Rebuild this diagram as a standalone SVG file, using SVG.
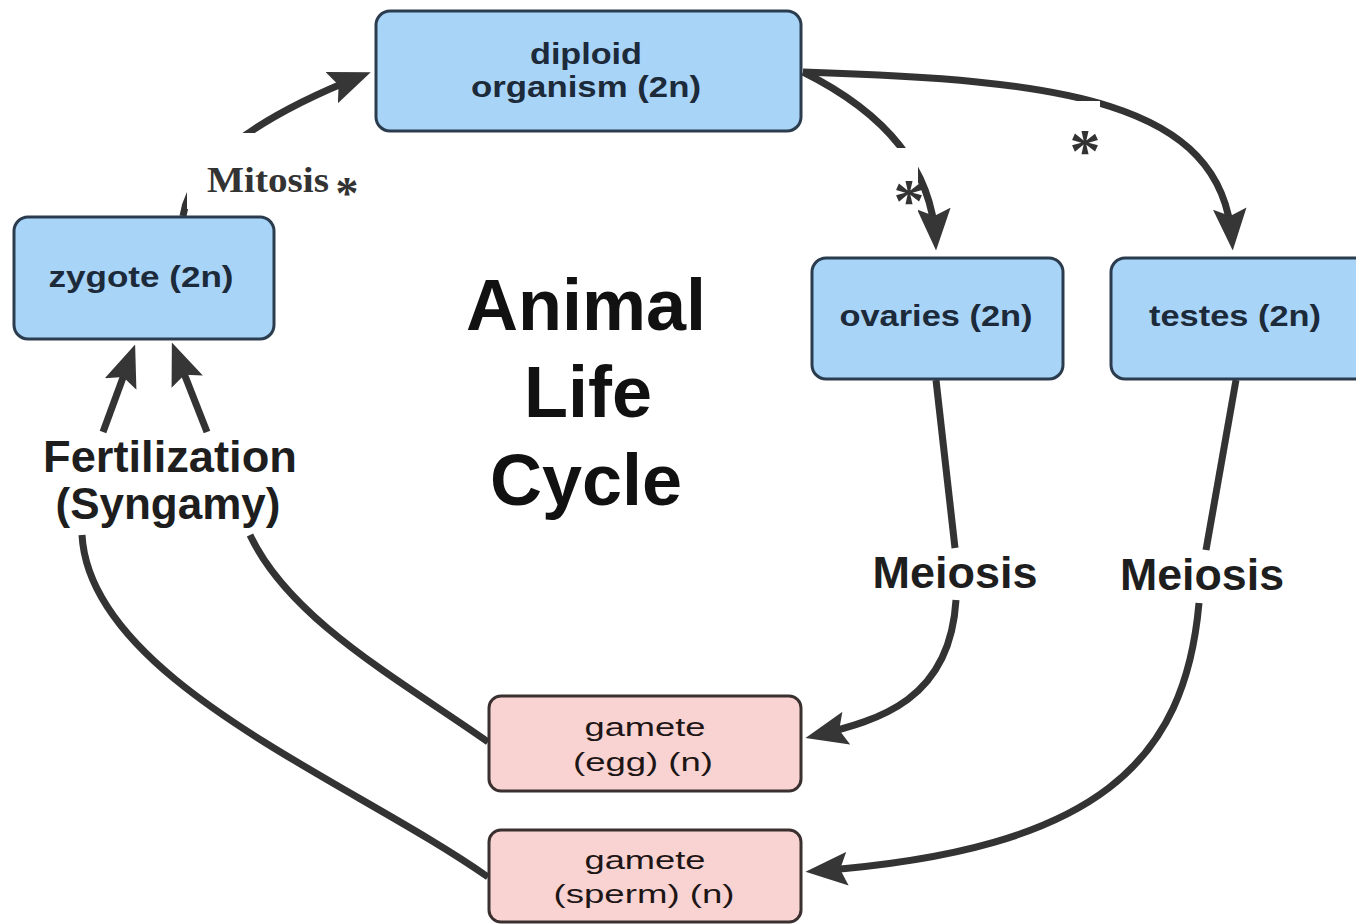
<svg xmlns="http://www.w3.org/2000/svg" width="1356" height="924" viewBox="0 0 1356 924">
<style>
.blue{fill:#a8d4f8;stroke:#2b3c4e;stroke-width:3}
.pink{fill:#f8d3d1;stroke:#3a3030;stroke-width:3}
.bt{font-family:"Liberation Sans",Arial,sans-serif;font-weight:bold;font-size:30px;fill:#1c2a3a;text-anchor:middle}
.pt{font-family:"Liberation Sans",Arial,sans-serif;font-size:26px;fill:#1e1616;text-anchor:middle}
.lbl{font-family:"Liberation Sans",Arial,sans-serif;font-weight:bold;font-size:44px;fill:#1e1e1e;text-anchor:middle}
.ser{font-family:"Liberation Serif","Times New Roman",serif;font-weight:bold;fill:#333}
.title{font-family:"Liberation Sans",Arial,sans-serif;font-weight:bold;font-size:72px;fill:#111;text-anchor:middle}
.ln{fill:none;stroke:#333;stroke-width:7}
.mask{fill:#ffffff}
</style>
<defs>
<marker id="ah" viewBox="0 0 40 32" refX="30" refY="16" markerWidth="42" markerHeight="34" markerUnits="userSpaceOnUse" orient="auto">
<path d="M0,0 L40,16 L0,32 L7,16 Z" fill="#363636"/>
</marker>
</defs>
<rect width="1356" height="924" fill="#ffffff"/>
<g id="connectors">
<path class="ln" d="M183,216 C190,170 245,122 361,76" marker-end="url(#ah)"/>
<path class="ln" d="M803,72 Q930,135 935.5,240" marker-end="url(#ah)"/>
<path class="ln" d="M803,72 C1060,80 1222,100 1232,240" marker-end="url(#ah)"/>
<path class="ln" d="M936,380 L955,548"/>
<path class="ln" d="M956,600 C950,700 880,720 815.7,735.6" marker-end="url(#ah)"/>
<path class="ln" d="M1236,380 L1206,550"/>
<path class="ln" d="M1199,603 C1185,760 1100,850 816,871" marker-end="url(#ah)"/>
<path class="ln" d="M488,742 C400,680 290,620 250,535"/>
<path class="ln" d="M488,877 C350,780 90,680 82,535"/>
<path class="ln" d="M103,432 L131.5,354.4" marker-end="url(#ah)"/>
<path class="ln" d="M207,432 L175.7,352.3" marker-end="url(#ah)"/>
</g>
<g id="labels">
<rect class="mask" x="187" y="133" width="175" height="76"/>
<text class="ser" x="207" y="192" font-size="36" textLength="122" lengthAdjust="spacingAndGlyphs">Mitosis</text>
<text class="ser" x="347" y="209" font-size="46" text-anchor="middle">*</text>
<rect class="mask" x="873" y="148" width="45" height="67"/>
<text class="ser" x="909" y="221" font-size="62" text-anchor="middle">*</text>
<rect class="mask" x="1040" y="101" width="60" height="64"/>
<text class="ser" x="1085" y="171" font-size="62" text-anchor="middle">*</text>
<text class="lbl" x="170" y="472" textLength="254" lengthAdjust="spacingAndGlyphs">Fertilization</text>
<text class="lbl" x="168" y="519">(Syngamy)</text>
<text class="lbl" x="955" y="588" textLength="165" lengthAdjust="spacingAndGlyphs">Meiosis</text>
<text class="lbl" x="1202" y="590" textLength="164" lengthAdjust="spacingAndGlyphs">Meiosis</text>
<text class="title" x="586" y="330">Animal</text>
<text class="title" x="588" y="417">Life</text>
<text class="title" x="586" y="505">Cycle</text>
</g>
<g id="diploid">
<rect class="blue" x="376" y="11" width="425" height="120" rx="14"/>
<text class="bt" x="586" y="64" textLength="112" lengthAdjust="spacingAndGlyphs">diploid</text>
<text class="bt" x="586" y="97" textLength="230" lengthAdjust="spacingAndGlyphs">organism (2n)</text>
</g>
<g id="zygote">
<rect class="blue" x="14" y="217" width="260" height="122" rx="14"/>
<text class="bt" x="141" y="287" textLength="185" lengthAdjust="spacingAndGlyphs">zygote (2n)</text>
</g>
<g id="ovaries">
<rect class="blue" x="812" y="258" width="251" height="121" rx="14"/>
<text class="bt" x="936" y="326" textLength="193" lengthAdjust="spacingAndGlyphs">ovaries (2n)</text>
</g>
<g id="testes">
<rect class="blue" x="1111" y="258" width="260" height="121" rx="14"/>
<text class="bt" x="1235" y="326" textLength="172" lengthAdjust="spacingAndGlyphs">testes (2n)</text>
</g>
<g id="egg">
<rect class="pink" x="489" y="696" width="312" height="95" rx="12"/>
<text class="pt" x="645" y="736" textLength="121" lengthAdjust="spacingAndGlyphs">gamete</text>
<text class="pt" x="643" y="771" textLength="140" lengthAdjust="spacingAndGlyphs">(egg) (n)</text>
</g>
<g id="sperm">
<rect class="pink" x="489" y="830" width="312" height="92" rx="12"/>
<text class="pt" x="645" y="869" textLength="121" lengthAdjust="spacingAndGlyphs">gamete</text>
<text class="pt" x="644" y="903" textLength="181" lengthAdjust="spacingAndGlyphs">(sperm) (n)</text>
</g>
</svg>
